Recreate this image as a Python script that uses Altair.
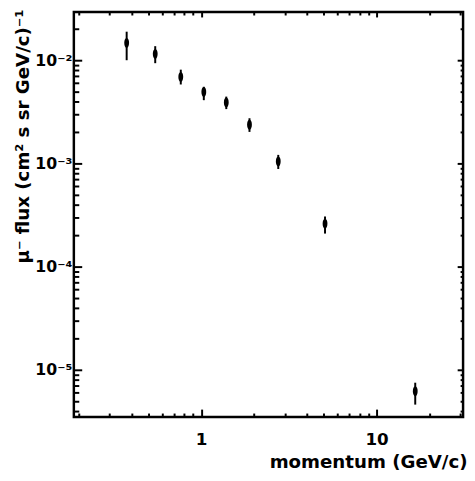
import altair as alt
import pandas as pd

# data
momentum = [0.376, 0.547, 0.765, 1.035, 1.39, 1.885, 2.75, 5.08, 16.6]
flux = [1.475e-2, 1.148e-2, 6.89e-3, 4.92e-3, 3.89e-3, 2.37e-3, 1.045e-3, 2.6e-4, 6.2e-6]
flux_hi = [1.89e-2, 1.368e-2, 8.1e-3, 5.53e-3, 4.44e-3, 2.74e-3, 1.21e-3, 3.06e-4, 7.5e-6]
flux_lo = [1.0e-2, 9.36e-3, 5.82e-3, 4.10e-3, 3.36e-3, 2.02e-3, 8.83e-4, 2.09e-4, 4.6e-6]

x_domain = [0.188, 31.1]
y_domain = [3.49e-6, 0.0293]
x_major = [1, 10]
x_minor = [k * 10.0 ** d for d in (-1, 0, 1) for k in range(2, 10)
           if x_domain[0] <= k * 10.0 ** d <= x_domain[1]]
y_major = [1e-5, 1e-4, 1e-3, 1e-2]
y_minor = [k * 10.0 ** d for d in (-6, -5, -4, -3, -2) for k in range(2, 10)
           if y_domain[0] <= k * 10.0 ** d <= y_domain[1]]

x_title = "momentum (GeV/c)"
y_title = "μ⁻ flux (cm² s sr GeV/c)⁻¹"

df = pd.DataFrame({"p": momentum, "flux": flux, "lo": flux_lo, "hi": flux_hi})

FONT = "DejaVu Sans"
TICK = "black"
xs = alt.Scale(type="log", domain=x_domain, nice=False)
ys = alt.Scale(type="log", domain=y_domain, nice=False)

sup_expr = ("'10' + replace(replace(replace(replace(replace('' + round(log(datum.value)/LN10),"
            " '-', '⁻'), '2', '²'), '3', '³'), '4', '⁴'), '5', '⁵')")


def ax(orient, values, size, labels=False, **kw):
    return alt.Axis(orient=orient, values=values, tickSize=size, offset=-size,
                    domain=False, grid=False, labels=labels, ticks=True,
                    tickColor=TICK, tickWidth=2, **kw)


ax_bottom_major = ax("bottom", x_major, 8, labels=True,
                     labelExpr="'' + datum.value", labelPadding=15,
                     labelFontSize=17, labelColor="black", labelFont=FONT,
                     labelFontWeight="bold",
                     title=x_title, titleFontSize=18.5, titleFont=FONT,
                     titleFontWeight="bold", titleColor="black",
                     titleAnchor="end", titleAlign="right", titleX=400, titleY=44)
ax_bottom_minor = ax("bottom", x_minor, 4, title=None)
ax_top_major = ax("top", x_major, 5, title=None)
ax_top_minor = ax("top", x_minor, 3, title=None)

ax_left_major = ax("left", y_major, 8, labels=True, labelExpr=sup_expr,
                   labelPadding=2, labelFontSize=16, labelColor="black",
                   labelFont=FONT, labelFontWeight="bold",
                   title=y_title, titleFontSize=18.5, titleFont=FONT,
                   titleFontWeight="bold", titleColor="black",
                   titleAnchor="end", titleAlign="right", titleAngle=-90,
                   titleX=-50, titleY=-3)
ax_left_minor = ax("left", y_minor, 5, title=None)
ax_right_major = ax("right", y_major, 6, title=None)
ax_right_minor = ax("right", y_minor, 3, title=None)

base = alt.Chart(df)

bars = base.mark_rule(color="black", strokeWidth=2).encode(
    x=alt.X("p:Q", scale=xs, axis=ax_bottom_major),
    y=alt.Y("lo:Q", scale=ys, axis=ax_left_major),
    y2="hi:Q",
)

pts = base.mark_point(
    shape="M0,-1 C0.65,-1 0.65,1 0,1 C-0.65,1 -0.65,-1 0,-1 Z",
    size=100, filled=True, color="black", opacity=1,
).encode(
    x=alt.X("p:Q", scale=xs, axis=ax_bottom_minor),
    y=alt.Y("flux:Q", scale=ys, axis=ax_left_minor),
)

ghost1 = base.mark_point(opacity=0).encode(
    x=alt.X("p:Q", scale=xs, axis=ax_top_major),
    y=alt.Y("flux:Q", scale=ys, axis=ax_right_major),
)
ghost2 = base.mark_point(opacity=0).encode(
    x=alt.X("p:Q", scale=xs, axis=ax_top_minor),
    y=alt.Y("flux:Q", scale=ys, axis=ax_right_minor),
)

chart = (
    alt.layer(bars, pts, ghost1, ghost2)
    .resolve_axis(x="independent", y="independent")
    .properties(
        width=396, height=412,
        padding={"left": 67, "top": 0, "right": 4, "bottom": 60},
        autosize=alt.AutoSizeParams(type="none"),
        background="white",
    )
    .configure_view(stroke="black", strokeWidth=2.5)
)

chart.save("out.html", embed_options={"renderer": "svg", "actions": False})
